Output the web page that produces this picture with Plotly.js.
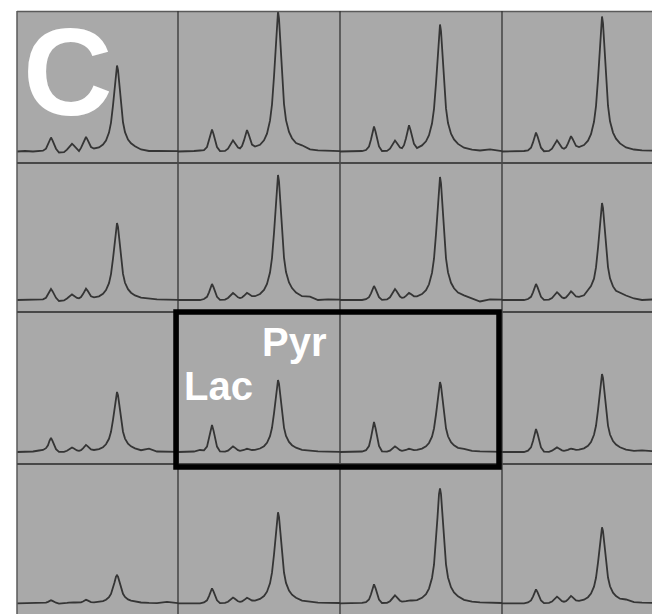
<!DOCTYPE html>
<html><head><meta charset="utf-8">
<script src="https://cdn.plot.ly/plotly-3.0.1.min.js"></script>
<style>html,body{margin:0;padding:0;background:#fff;}#chart{width:652px;height:614px;}</style>
</head><body><div id="chart"></div>
<script>
// chemical-shift sample positions (relative units across one voxel)
const shiftX = [0,8,16,22, 26,29,31,32.5,34,35.5,37,39, 42,47, 50,52,53.5,55,56.5,58,60,62, 64,66,67.5,69,70.5,72,74,77, 82,86,89,92,94,96,97.5,99,100,101, 102.5,104,106,108,111,114,118,124,132,140, 150,162];

// spectra, row by row (signal above baseline)
const specR1C1 = [0,0.5,0,0.5, 0.8,2.8,6.7,11.2,14,11.2,6.7,2.8, -1,-0.6, 1.9,4.0,6.2,7.7,6.3,4.5,2.7,0.5, 3.6,7.4,11.7,14.5,11.9,7.9,4.5,3.0, 4.1,6.9,11.0,18.9,28.9,46.1,64.2,81.6,86,81.6, 64.2,46.1,29.2,19.3,12.0,8.2,5.2,2.0,0.5,0.7, 0.4,0.3];
const specR1C2 = [0,0,0.5,1, 1.3,4.4,10.6,17.6,22,17.6,10.6,4.4, 0.4,0.6, 2.8,5.8,9,11.1,9.1,6.5,4.0,3.1, 5.5,11.1,17.3,21.4,17.7,11.9,6.9,4.9, 6.7,11.2,17.9,30.8,47.0,75.0,104.6,132.9,140,132.9, 104.6,75.0,47.5,31.4,19.6,13.3,8.4,6.2,2.1,1.1, 0.7,0.4];
const specR1C3 = [0,0,0,0.5, 1.5,5,12,20,25,20,12,5, 0.5,0.6, 2.8,5.7,8.9,11,9,6.4,4,3.3, 6.3,13.3,21.1,26.2,21.5,14,7.6,3.5, 6.1,10.2,16.3,27.9,42.7,68.1,94.9,120.5,127,120.5, 94.9,68.1,43.1,28.4,17.8,12.1,7.6,3.8,1.9,1.0, 2.1,0.4];
const specR1C4 = [0,0,0,0.5, 1.1,3.8,9.1,15.2,19,15.2,9.1,3.8, 0.3,0.6, 2.8,5.7,8.9,11.1,9.1,6.3,3.8,2.8, 4.2,8.1,12.4,15.3,12.8,8.9,5.6,4.5, 6.5,10.8,17.3,29.7,45.4,72.4,100.8,128.1,135,128.1, 100.8,72.4,45.8,30.2,18.9,12.8,8.1,4.1,2.0,1.1, 0.7,0.4];

const specR2C1 = [0,0,0,0, 0.7,2.2,5.3,8.8,11,8.8,5.3,2.2, -1,-0.5, 1.5,2.9,4.5,5.6,4.6,3.3,2.1,1.7, 2.9,5.9,9.2,11.3,9.4,6.3,3.7,2.7, 3.7,6.2,9.9,16.9,25.9,41.3,57.5,73.1,77,73.1, 57.5,41.3,26.1,17.2,10.8,7.3,4.6,2.3,1.2,0.6, 0.4,0.2];
const specR2C2 = [0,0,0,0, 1,3.2,7.7,12.8,16,12.8,7.7,3.2, 0.1,0.4, 2.0,3.8,5.7,7,5.8,4.1,2.7,2.0, 2.5,4.2,5.9,7.1,6.3,4.9,3.8,3.8, 6.0,10.0,16.0,27.5,42.0,67.0,93.4,118.6,125,118.6, 93.4,67,42.4,28,17.5,11.9,7.5,3.8,3.4,0, 0.6,0.4];
const specR2C3 = [0,0,0,0, 0.8,2.8,6.7,11.2,14,11.2,6.7,2.8, 0.1,0.6, 2.7,5.7,8.9,11,9,6,3.4,2.1, 2.5,4.1,5.8,7.1,6.2,4.9,3.7,3.7, 5.9,9.8,15.7,27.1,41.3,65.9,91.9,116.7,123,116.7, 91.9,65.9,41.7,27.6,17.2,11.7,7.4,4.7,1.8,-1.5, 0.6,0.4];
const specR2C4 = [0,0,0,0, 1,3.2,7.7,12.8,16,12.8,7.7,3.2, 0.1,0.4, 2,4.1,6.3,7.8,6.4,4.4,2.6,1.8, 2.6,4.8,7.1,8.6,7.3,5.3,3.5,3.1, 4.7,10,14,21.3,32.6,52,72.5,92.1,97,92.1, 72.5,52,32.9,21.7,13.6,9.2,7,4.5,1.5,0, 0.5,0.3];

const specR3C1 = [0,0,0.5,1.5, 2,3.8,6.7,11.2,14,11.2,6.7,2.8, 0.1,0.2, 1.2,2.3,3.6,4.5,3.7,2.5,1.6,1.2, 1.9,3.7,5.7,7,5.9,4.1,2.5,2.0, 2.9,4.8,7.7,13.2,20.2,32.2,44.8,56.9,60,56.9, 44.8,32.2,20.3,13.4,8.4,5.7,3.6,1.8,3.4,0.5, 0.3,0.2];
const specR3C2 = [0,0,0.5,2, 1.6,5.4,13,21.6,27,21.6,13,5.4, 0.6,0.3, 1.4,2.9,4.5,5.6,4.6,3.0,1.8,1.1, 1.3,2,2.7,3.2,2.9,2.4,2,2.1, 3.5,5.8,9.2,15.8,24.2,38.6,53.8,68.3,72,68.3, 53.8,38.6,24.4,16.1,10.1,6.8,4.3,2.2,1.1,0.6, 0.4,0.2];
const specR3C3 = [0,0,0,0.5, 1.8,6,14.4,24,30,24,14.4,6, 0.7,0.3, 1.4,2.9,4.5,5.6,4.6,3,1.8,1.1, 1.2,2,2.7,3.2,2.9,2.4,1.9,2.1, 3.4,5.6,9.0,15.4,23.5,37.5,52.3,66.4,70,66.4, 52.3,37.5,23.7,15.7,9.8,6.7,4.2,3.1,1.1,0.6, 0.4,0.2];
const specR3C4 = [0,0,0,0, 1.4,4.6,11,18.4,23,18.4,11,4.6, 0.4,0.2, 1.3,2.4,3.7,4.6,3.8,2.6,1.7,1.1, 1.3,2.1,2.8,3.3,3.0,2.6,2.1,2.3, 3.7,6.2,10.0,17.2,26.2,41.8,58.3,74.0,78,74.0, 58.3,41.8,26.4,17.5,10.9,7.4,4.7,2.3,1.2,1.6, 0.4,0.2];

const specR4C1 = [0,0,0,0, 0.2,0.6,1.4,2.4,3,2.4,1.4,0.6, -0.3,-0.3, 0.4,0.7,1.0,1.2,1.0,0.8,0.6,0.5, 0.9,1.8,2.8,3.5,2.9,2.0,1.2,1.0, 1.3,2.2,3.6,6.2,9.4,15.0,20.9,26.6,28,26.6, 20.9,15.0,9.5,6.3,3.9,2.7,1.7,0.8,0.4,0.2, 1.5,0];
const specR4C2 = [0,0,0,0, 0.9,3,7.2,12,15,12,7.2,3, 0.1,0.4, 1.5,3.0,4.6,5.7,4.7,3.3,2.0,1.4, 1.9,3.2,4.6,5.5,4.8,3.7,2.8,2.7, 4.4,7.3,11.6,20.0,30.6,48.8,68.0,86.4,91,86.4, 68.0,48.8,30.8,20.4,12.7,8.6,5.5,2.7,1.4,0.7, 0.5,0.3];
const specR4C3 = [0,0,0,0.5, 1.1,3.8,9.1,15.2,19,15.2,9.1,3.8, 0.3,0.4, 2.1,4.2,6.4,7.9,6.5,4.4,2.6,1.7, 1.6,2.1,2.5,3,2.9,2.8,2.7,3.2, 5.5,9.2,14.7,25.3,38.6,61.6,85.9,109.1,115,109.1, 85.9,61.6,39.0,25.8,16.1,10.9,6.9,3.5,1.7,0.9, 0.6,0.3];
const specR4C4 = [0,0,0,0, 0.8,2.8,6.7,11.2,14,11.2,6.7,2.8, 0.1,0.4, 1.7,3.4,5.3,6.6,5.4,3.7,2.2,1.6, 2.1,4.0,5.9,7.3,6.2,4.4,2.9,2.4, 3.6,6.1,9.7,16.7,25.5,40.7,56.8,72.1,76,72.1, 56.8,40.7,25.8,17.0,10.6,7.2,4.6,3.8,1.1,0.6, 0.4,0.2];

const panelLabel = 'C';
const peakLabels = ['Lac', 'Pyr'];

const spectraGrid = [
  [specR1C1, specR1C2, specR1C3, specR1C4],
  [specR2C1, specR2C2, specR2C3, specR2C4],
  [specR3C1, specR3C2, specR3C3, specR3C4],
  [specR4C1, specR4C2, specR4C3, specR4C4]
];

const W = 652, H = 614;
const colEdges = [17, 178, 340, 502, 652];
const rowEdges = [11, 163, 312, 464, 614];
const baseY = [151.5, 300, 452, 603.3];
const px = v => v / W;
const py = v => 1 - v / H;

const traces = [];
const layout = {
  width: W, height: H,
  margin: {l: 0, r: 0, t: 0, b: 0, pad: 0},
  paper_bgcolor: '#ffffff',
  plot_bgcolor: 'rgba(0,0,0,0)',
  showlegend: false,
  shapes: [],
  annotations: []
};

for (let r = 0; r < 4; r++) {
  for (let c = 0; c < 4; c++) {
    const i = r * 4 + c + 1;
    const sfx = i === 1 ? '' : String(i);
    layout['xaxis' + sfx] = {
      domain: [px(colEdges[c]), px(colEdges[c + 1])],
      range: [0, colEdges[c + 1] - colEdges[c]],
      visible: false, fixedrange: true, anchor: 'y' + sfx
    };
    layout['yaxis' + sfx] = {
      domain: [py(rowEdges[r + 1]), py(rowEdges[r])],
      range: [-(rowEdges[r + 1] - baseY[r]), baseY[r] - rowEdges[r]],
      visible: false, fixedrange: true, anchor: 'x' + sfx
    };
    traces.push({
      type: 'scatter', mode: 'lines',
      x: shiftX, y: spectraGrid[r][c],
      xaxis: 'x' + sfx, yaxis: 'y' + sfx,
      line: {color: '#353535', width: 1.8},
      hoverinfo: 'skip'
    });
  }
}

// gray panel background
layout.shapes.push({type: 'rect', xref: 'paper', yref: 'paper', layer: 'below',
  x0: px(17), x1: 1, y0: 0, y1: py(11), fillcolor: '#a9a9a9', line: {width: 0}});
// outer border (top & left)
layout.shapes.push({type: 'line', xref: 'paper', yref: 'paper', x0: px(17), x1: 1, y0: py(11.5), y1: py(11.5), line: {color: '#5a5a5a', width: 1.5}});
layout.shapes.push({type: 'line', xref: 'paper', yref: 'paper', x0: px(17), x1: px(17), y0: 0, y1: py(11), line: {color: '#5a5a5a', width: 1.5}});
// grid lines
[178, 340, 502].forEach(x => layout.shapes.push({type: 'line', xref: 'paper', yref: 'paper',
  x0: px(x), x1: px(x), y0: 0, y1: py(11), line: {color: '#333333', width: 1.3}}));
[163, 312, 464].forEach(y => layout.shapes.push({type: 'line', xref: 'paper', yref: 'paper',
  x0: px(17), x1: 1, y0: py(y), y1: py(y), line: {color: '#484848', width: 2}}));
// highlighted voxel box
layout.shapes.push({type: 'rect', xref: 'paper', yref: 'paper', layer: 'above',
  x0: px(176), x1: px(499), y0: py(467), y1: py(312), line: {color: '#000000', width: 5.5}, fillcolor: 'rgba(0,0,0,0)'});

layout.annotations.push({xref: 'paper', yref: 'paper', x: px(68), y: py(72), xanchor: 'center', yanchor: 'middle',
  text: '<b>' + panelLabel + '</b>', showarrow: false, borderpad: 0,
  font: {family: 'Liberation Sans, Arial, sans-serif', size: 124, color: '#ffffff'}});
layout.annotations.push({xref: 'paper', yref: 'paper', x: px(218.5), y: py(386.5), xanchor: 'center', yanchor: 'middle',
  text: '<b>' + peakLabels[0] + '</b>', showarrow: false,
  font: {family: 'Liberation Sans, Arial, sans-serif', size: 40, color: '#ffffff'}});
layout.annotations.push({xref: 'paper', yref: 'paper', x: px(294), y: py(341.5), xanchor: 'center', yanchor: 'middle',
  text: '<b>' + peakLabels[1] + '</b>', showarrow: false,
  font: {family: 'Liberation Sans, Arial, sans-serif', size: 40, color: '#ffffff'}});

Plotly.newPlot('chart', traces, layout, {staticPlot: true, displayModeBar: false});
</script>
</body></html>
